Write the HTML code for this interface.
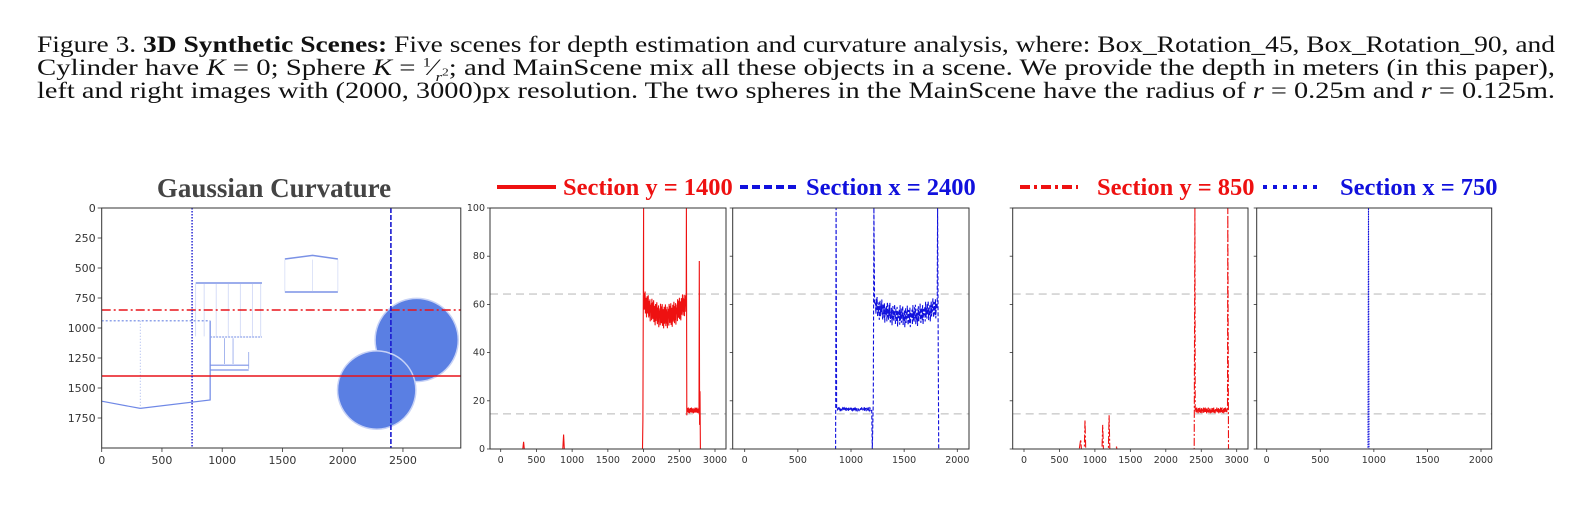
<!DOCTYPE html>
<html><head><meta charset="utf-8">
<style>
body{margin:0;width:1592px;height:507px;background:#fff;overflow:hidden;position:relative}
#cap{position:absolute;left:37px;top:33px;width:1518px;font-family:"Liberation Serif",serif;font-size:23px;color:#111}
#cap .ln{white-space:nowrap;height:23px;line-height:23px;transform-origin:0 50%;width:max-content}
#cap i{font-style:italic}
svg{position:absolute;left:0;top:0}
</style></head><body>
<div id="cap">
<div class="ln">Figure 3. <b>3D Synthetic Scenes:</b> Five scenes for depth estimation and curvature analysis, where: Box_Rotation_45, Box_Rotation_90, and</div>
<div class="ln">Cylinder have <i>K</i> = 0; Sphere <i>K</i> = <sup style="font-size:13px;line-height:0">1</sup>&frasl;<sub style="font-size:13px;line-height:0"><i>r</i><sup>2</sup></sub>; and MainScene mix all these objects in a scene. We provide the depth in meters (in this paper),</div>
<div class="ln">left and right images with (2000, 3000)px resolution. The two spheres in the MainScene have the radius of <i>r</i> = 0.25m and <i>r</i> = 0.125m.</div>
</div>
<svg id="s" width="1592" height="507"></svg>
<script>
document.querySelectorAll('#cap .ln').forEach(l=>{const w=l.getBoundingClientRect().width;l.style.transform='scaleX('+(1518/w)+')';});
// ---- data ----
const imgXTicks=[0,500,1000,1500,2000,2500];
const imgYTicks=[0,250,500,750,1000,1250,1500,1750];
const spheres=[[2614,1100,345],[2282,1517,325]];
const sectionRows=[1400,850];
const sectionCols=[2400,750];
const yTicks=[0,20,40,60,80,100];
const x3000Ticks=[0,500,1000,1500,2000,2500,3000];
const x2000Ticks=[0,500,1000,1500,2000];
const refLevels=[64.3,14.6];
const noise=[2,-3,4,-1,5,-4,1,-2,3,-5,0,4,-3,2,-1,5,-2,-4,3,1,-3,4,-5,2,0,-1,3,-4,5,-2];
const s1Pts=[[0,0],[310,0],[320,3],[330,0],[870,0],[880,6],[890,0],[1985,0],[1990,12],[2000,100],[2000,60]];
const s1Plat=[[2005,2595,61,55,5],[2610,2775,16,16,1.2]];
const s1Tail=[[2597,60],[2600,100],[2605,14],[2776,16],[2780,78],[2785,10],[2790,24],[2795,0],[2800,0]];
const s2Pts=[[0,0],[855,0],[860,100],[865,17]];
const s2Plat=[[868,1190,16.5,16.5,0.8],[1230,1810,59,55,4.5]];
const s2Tail=[[1195,16],[1200,0],[1210,20],[1215,100],[1222,60],[1811,60],[1815,100],[1825,0],[2000,0]];
const s3Pts=[[0,0],[780,0],[800,4],[810,0],[850,0],[860,12],[870,0],[1100,0],[1110,10],[1120,0],[1190,0],[1200,14],[1210,0],[1300,0],[1305,1],[1310,0],[2400,0],[2410,100],[2415,16]];
const s3Plat=[[2420,2865,16,16,1.2]];
const s3Tail=[[2870,16],[2875,100],[2885,0],[2950,0]];
const s4Pts=[[0,0],[945,0],[950,100],[955,0],[2000,0]];

const NS='http://www.w3.org/2000/svg';
const svg=document.getElementById('s');
function el(t,a,p){const e=document.createElementNS(NS,t);for(const k in a)e.setAttribute(k,a[k]);(p||svg).appendChild(e);return e;}
function txt(x,y,s,a,p){const e=el('text',Object.assign({x:x,y:y,'font-family':'DejaVu Sans, sans-serif','font-size':10.5,fill:'#333'},a||{}),p);e.textContent=s;return e;}

// ---- image panel ----
const ix=v=>101.7+v*0.1205, iy=v=>208+v*0.12;
const gI=el('g',{});


const ln=(x1,y1,x2,y2,c,w,d)=>el('line',{x1:x1,y1:y1,x2:x2,y2:y2,stroke:c,'stroke-width':w||1,'stroke-dasharray':d||'none'},gI);
const lb='#8fa3ea';
el('polyline',{points:[[0,1610],[320,1670],[900,1600],[900,940]].map(p=>ix(p[0])+','+iy(p[1])).join(' '),fill:'none',stroke:'#6f88e6','stroke-width':1.2},gI);
ln(ix(0),iy(940),ix(900),iy(940),lb,1.5,'2 2');ln(ix(320),iy(940),ix(320),iy(1670),lb,0.8,'1 2');
ln(ix(780),iy(625),ix(1330),iy(625),'#7b92e6',1.5);ln(ix(900),iy(1075),ix(1330),iy(1075),lb,1.2,'2 1');
for(const v of [780,850,950,1050,1150,1250,1320])ln(ix(v),iy(630),ix(v),iy(1070),'#c5cff4',0.7);
ln(ix(900),iy(1310),ix(1220),iy(1310),'#7b92e6',1.2);ln(ix(900),iy(1350),ix(1220),iy(1350),'#7b92e6',1.2);
ln(ix(1020),iy(1085),ix(1020),iy(1300),lb,0.8);ln(ix(1090),iy(1085),ix(1090),iy(1300),lb,0.8);ln(ix(1220),iy(1200),ix(1220),iy(1340),lb,0.8);
el('polyline',{points:[[1520,425],[1750,395],[1960,425]].map(p=>ix(p[0])+','+iy(p[1])).join(' '),fill:'none',stroke:'#7b92e6','stroke-width':1.5},gI);
ln(ix(1520),iy(700),ix(1960),iy(700),'#7b92e6',1.5);
for(const v of [1520,1750,1960])ln(ix(v),iy(430),ix(v),iy(695),'#d0d8f6',0.7);
spheres.forEach((s,i)=>{const c=el('circle',{cx:ix(s[0]),cy:iy(s[1]),r:s[2]*0.1205,fill:'#5a7fe3',stroke:'#c7d2f6','stroke-width':1.5},gI);
});
ln(ix(0),iy(sectionRows[0]),ix(2980),iy(sectionRows[0]),'#e8141a',1.6);
ln(ix(0),iy(sectionRows[1]),ix(2980),iy(sectionRows[1]),'#e8141a',1.6,'9 3 2 3');
ln(ix(sectionCols[0]),iy(0),ix(sectionCols[0]),iy(2000),'#1a1ad0',1.6,'5 2');
ln(ix(sectionCols[1]),iy(0),ix(sectionCols[1]),iy(2000),'#1a1ad0',1.4,'1.5 1.5');
el('rect',{x:ix(0),y:iy(0),width:ix(2980)-ix(0),height:iy(2000)-iy(0),fill:'none',stroke:'#333','stroke-width':1},gI);
imgXTicks.forEach(v=>{ln(ix(v),iy(2000),ix(v),iy(2000)+4,'#333',0.8);txt(ix(v),iy(2000)+16,String(v),{'text-anchor':'middle','font-size':11},gI);});
imgYTicks.forEach(v=>{ln(ix(0)-4,iy(v),ix(0),iy(v),'#333',0.8);txt(ix(0)-6,iy(v)+4,String(v),{'text-anchor':'end','font-size':11},gI);});
const t=txt(274,197,'Gaussian Curvature',{'text-anchor':'middle','font-family':'Liberation Serif, serif','font-size':27,'font-weight':'bold',fill:'#444'});



// ---- section panels ----
const panels=[
 {l:490,r:726,x0:500.7,x1:715,xmax:3000,ticks:x3000Ticks,pts:s1Pts,plat:s1Plat,tail:s1Tail,c:'#ee1111',d:'none',name:'section-y-1400',yl:true},
 {l:732.7,r:969,x0:744.7,x1:957.3,xmax:2000,ticks:x2000Ticks,pts:s2Pts,plat:s2Plat,tail:s2Tail,c:'#1111dd',d:'4 2',name:'section-x-2400'},
 {l:1012.7,r:1248,x0:1024,x1:1236.7,xmax:3000,ticks:x3000Ticks,pts:s3Pts,plat:s3Plat,tail:s3Tail,c:'#ee1111',d:'8 2 2 2',name:'section-y-850'},
 {l:1256.7,r:1491.7,x0:1266.7,x1:1481,xmax:2000,ticks:x2000Ticks,pts:s4Pts,plat:[],tail:[],c:'#1111dd',d:'1.5 1',name:'section-x-750'}];
const plotTop=208,plotBot=449,py=v=>plotBot-(v/100)*(plotBot-plotTop);
panels.forEach(P=>{
 const g=el('g',{});
 
 
 const px=v=>P.x0+v*(P.x1-P.x0)/P.xmax;
 refLevels.forEach(v=>el('line',{x1:P.l,x2:P.r,y1:py(v),y2:py(v),stroke:'#d2d2d2','stroke-width':1.6,'stroke-dasharray':'8 5'},g));
 let pts=P.pts.slice();
 P.plat.forEach(pl=>{const [a,b,le,lm,amp]=pl;let k=0;for(let x=a;x<=b;x+=4,k++){const u=(x-a)/(b-a)*2-1;const lvl=lm+(le-lm)*u*u;pts.push([x,lvl+amp*noise[k%noise.length]/5]);}});
 pts=pts.concat(P.tail);
 pts=pts.map((q,i)=>[q[0],q[1],i]).sort((a,b)=>a[0]-b[0]||a[2]-b[2]);
 const p=el('polyline',{points:pts.map(q=>px(q[0]).toFixed(1)+','+py(Math.min(100,q[1])).toFixed(1)).join(' '),fill:'none',stroke:P.c,'stroke-width':1.1,'stroke-dasharray':P.d},g);
 
 
 el('rect',{x:P.l,y:plotTop,width:P.r-P.l,height:plotBot-plotTop,fill:'none',stroke:'#333','stroke-width':1},g);
 P.ticks.forEach(v=>{el('line',{x1:px(v),x2:px(v),y1:plotBot,y2:plotBot+3,stroke:'#333','stroke-width':0.8},g);txt(px(v),plotBot+14,String(v),{'text-anchor':'middle','font-size':9.5},g);});
 yTicks.forEach(v=>{el('line',{x1:P.l-3,x2:P.l,y1:py(v),y2:py(v),stroke:'#333','stroke-width':0.8},g);if(P.yl)txt(P.l-5,py(v)+3,String(v),{'text-anchor':'end','font-size':9.5},g);});
});
const legs=[[497,556,563,'Section y = 1400','#ee1111','none'],[740,799,806,'Section x = 2400','#1111dd','8 4'],[1020,1078,1097,'Section y = 850','#ee1111','10 4 3 4'],[1263,1322,1340,'Section x = 750','#1111dd','4 6']];
legs.forEach((L,i)=>{const g=el('g',{});
 
 
 el('line',{x1:L[0],x2:L[1],y1:187,y2:187,stroke:L[4],'stroke-width':4,'stroke-dasharray':L[5]},g);
 const e=el('text',{x:L[2],y:195,'font-family':'Liberation Serif, serif','font-size':24.5,'font-weight':'bold',fill:L[4]},g);e.textContent=L[3];});
</script>
</body></html>
